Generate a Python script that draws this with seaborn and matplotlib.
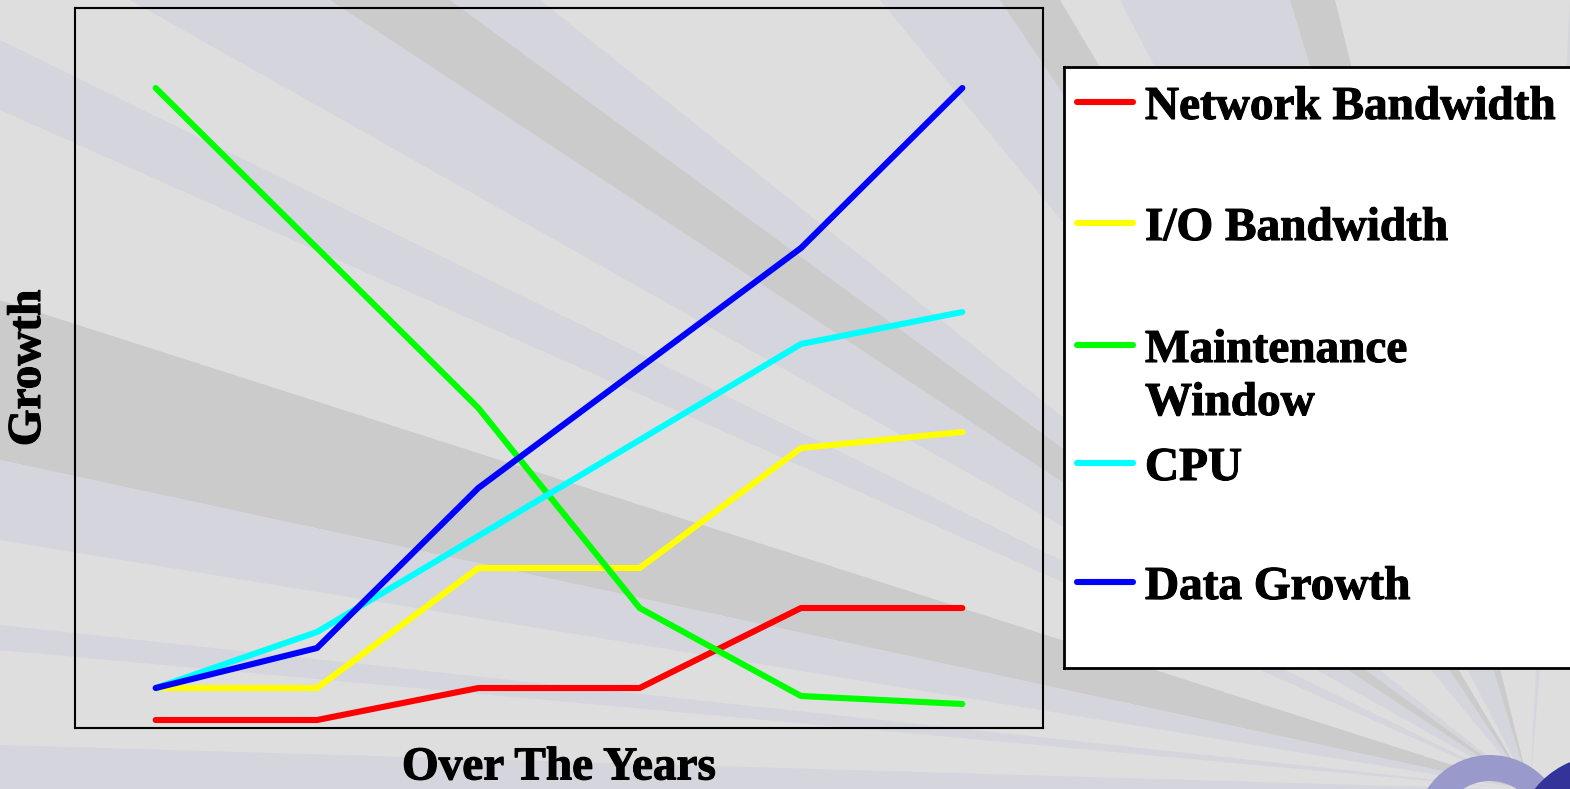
import pandas as pd
import matplotlib
matplotlib.use("Agg")
import matplotlib.pyplot as plt
import matplotlib.patheffects as pe
from matplotlib.patches import Polygon, Circle, Wedge
import seaborn as sns

# data (arbitrary growth units, 0-90 scale)
years = [1, 2, 3, 4, 5, 6]
network_bw = [1, 1, 5, 5, 15, 15]
io_bw = [5, 5, 20, 20, 35, 37]
maint_window = [80, 60, 40, 15, 4, 3]
cpu = [5, 12, 24, 36, 48, 52]
data_growth = [5, 10, 30, 45, 60, 80]

series_names = ["Network Bandwidth", "I/O Bandwidth", "Maintenance\nWindow", "CPU", "Data Growth"]
series_values = [network_bw, io_bw, maint_window, cpu, data_growth]
colors = ["#ff0000", "#ffff00", "#00ff00", "#00ffff", "#0000ff"]

df = pd.DataFrame({
    "Year": years * len(series_names),
    "Growth": [v for vals in series_values for v in vals],
    "Series": [n for n in series_names for _ in years],
})

W, H = 1570, 789
sns.set_theme(style="white")
plt.rcParams["font.family"] = ["Liberation Serif", "DejaVu Serif"]

fig = plt.figure(figsize=(W / 100, H / 100), dpi=100)
fig.patch.set_facecolor("#dedede")


def fpos(x, y):
    # pixel (top-left origin) -> figure fraction
    return (x / W, 1 - y / H)


# decorative background rays converging to the lower right
origin = (1530, 790)
rays = [
    ((0, 40), (0, 110), "#d5d5dd"),
    ((0, 300), (0, 460), "#cbcbcb"),
    ((0, 460), (0, 540), "#d5d5dd"),
    ((0, 625), (0, 650), "#d5d5dd"),
    ((0, 745), (0, 800), "#d5d5dd"),
    ((130, 0), (330, 0), "#d5d5dd"),
    ((330, 0), (450, 0), "#cbcbcb"),
    ((450, 0), (540, 0), "#d5d5dd"),
    ((880, 0), (1000, 0), "#d5d5dd"),
    ((1000, 0), (1060, 0), "#cbcbcb"),
    ((1120, 0), (1290, 0), "#d5d5dd"),
    ((1290, 0), (1335, 0), "#cbcbcb"),
    ((1570, 0), (1570, 300), "#d5d5dd"),
]
for p1, p2, c in rays:
    fig.add_artist(Polygon([fpos(*origin), fpos(*p1), fpos(*p2)], closed=True,
                           transform=fig.transFigure, facecolor=c,
                           edgecolor="none", zorder=-2))

# logo fragment in the corner
fig.add_artist(Wedge((1490, H - 830), 75, 0, 180, width=26, transform=None,
                     facecolor="#9999cc", edgecolor="none", zorder=-1))
fig.add_artist(Circle((1605, H - 845), 90, transform=None,
                      facecolor="#333399", edgecolor="none", zorder=-1))

bold = [pe.withStroke(linewidth=0.8, foreground="black")]

ax = fig.add_axes([75 / W, 1 - 728 / H, 968 / W, 720 / H])
ax.set_facecolor("none")

sns.lineplot(data=df, x="Year", y="Growth", hue="Series", hue_order=series_names,
             palette=colors, linewidth=4.4, legend=False, ax=ax)
for ln in ax.lines:
    ln.set_solid_capstyle("round")

ax.set_xlim(0.5, 6.5)
ax.set_ylim(0, 90)
ax.set_xticks([])
ax.set_yticks([])
for sp in ax.spines.values():
    sp.set_color("black")
    sp.set_linewidth(1.5)
ax.set_xlabel("Over The Years", fontsize=34, fontweight="bold", color="black",
              labelpad=14, path_effects=bold)
ax.set_ylabel("Growth", fontsize=34, fontweight="bold", color="black",
              labelpad=18, path_effects=bold)

# legend box, drawn by hand so the two-line label keeps its handle on the first line
lax = fig.add_axes([1064 / W, 1 - 668 / H, (1590 - 1064) / W, 601 / H])
lax.set_facecolor("white")
lax.set_xlim(1064, 1590)
lax.set_ylim(668, 67)
lax.set_xticks([])
lax.set_yticks([])
for sp in lax.spines.values():
    sp.set_color("black")
    sp.set_linewidth(2)

entry_y = [102, 223, 345, 463, 582]
for name, c, y in zip(series_names, colors, entry_y):
    lax.plot([1077, 1133], [y, y], color=c, linewidth=4.4, solid_capstyle="round")
    for i, line in enumerate(name.split("\n")):
        lax.text(1145, y + 17 + i * 53, line, fontsize=34, fontweight="bold",
                 va="baseline", ha="left", color="black", path_effects=bold)

fig.savefig("out.png", dpi=100, facecolor=fig.get_facecolor())
